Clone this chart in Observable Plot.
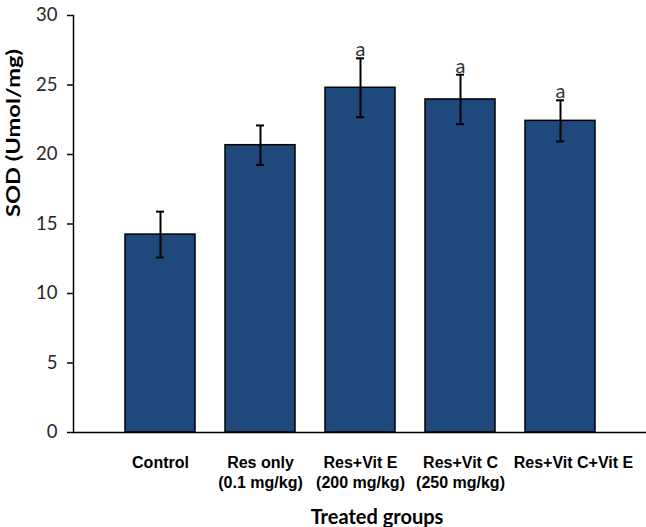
<!DOCTYPE html>
<html><head><meta charset="utf-8">
<script src="https://cdn.jsdelivr.net/npm/d3@7"></script>
<script src="https://cdn.jsdelivr.net/npm/@observablehq/plot@0.6"></script>
<style>html,body{margin:0;padding:0;background:#fff;overflow:hidden}#chart svg{display:block}</style>
</head><body><div id="chart"></div>
<script>
const groups = ["Control", "Res only", "Res+Vit E", "Res+Vit C", "Res+Vit C+Vit E"];
const doses = ["", "(0.1 mg/kg)", "(200 mg/kg)", "(250 mg/kg)", ""];
const sod = [14.24, 20.67, 24.8, 23.96, 22.42];
const sdErr = [1.65, 1.42, 2.12, 1.78, 1.48];
const sig = ["", "", "a", "a", "a"];
const yTicks = [0, 5, 10, 15, 20, 25, 30];
const yLabel = "SOD (Umol/mg)";
const xLabel = "Treated groups";

const data = groups.map((g, i) => ({
  group: g,
  label: doses[i] ? g + "\n" + doses[i] : g,
  sod: sod[i],
  lo: sod[i] - sdErr[i],
  hi: sod[i] + sdErr[i],
  sig: sig[i]
}));

const labelStyle = {x: "group", text: "label", frameAnchor: "bottom", lineAnchor: "top", dy: 21, lineHeight: 1.25, fontSize: 16, fontWeight: "bold", fontFamily: "Liberation Sans, Arial, sans-serif", fill: "#000"};

const chart = Plot.plot({
  width: 646,
  height: 527,
  marginTop: 15,
  marginBottom: 95,
  marginLeft: 73,
  marginRight: 0,
  style: {background: "#fff", overflow: "visible"},
  x: {domain: groups, range: [110, 610], paddingInner: 0.3, paddingOuter: 0.15, axis: null, label: null},
  y: {domain: [0, 30], label: null},
  marks: [
    Plot.barY(data, {x: "group", y: "sod", fill: "#1f497d", stroke: "#000", strokeWidth: 1.5}),
    Plot.ruleX(data, {x: "group", y1: "lo", y2: "hi", stroke: "#000", strokeWidth: 2}),
    Plot.tickY(data, {x: "group", y: "lo", stroke: "#000", strokeWidth: 2, insetLeft: 31, insetRight: 31}),
    Plot.tickY(data, {x: "group", y: "hi", stroke: "#000", strokeWidth: 2, insetLeft: 31, insetRight: 31}),
    Plot.text(data.filter(d => d.sig), {x: "group", y: "hi", text: "sig", lineAnchor: "bottom", dy: -2, fontSize: 20, fontFamily: "Lato", fill: "#333"}),
    Plot.ruleY([0], {stroke: "#000", strokeWidth: 1.5}),
    Plot.frame({anchor: "left", stroke: "#000", strokeWidth: 1.5}),
    Plot.axisY({ticks: yTicks, tickSize: 6, tickPadding: 10, fontSize: 18.5, fontFamily: "Lato", fill: "#262626", stroke: "#000", strokeWidth: 1.5, label: null}),
    Plot.text(data.slice(0, 4), labelStyle),
    Plot.text(data.slice(4), {...labelStyle, dx: 13}),
    Plot.text([yLabel], {frameAnchor: "left", dx: -59, dy: -7, rotate: -90, fontSize: 18, fontWeight: "bold", fontFamily: "Lato", fill: "#000"}),
    Plot.text([xLabel], {frameAnchor: "bottom", dx: 17, dy: 91, lineAnchor: "bottom", fontSize: 20, fontWeight: "bold", fontFamily: "Lato", fill: "#000"})
  ]
});
document.getElementById("chart").appendChild(chart);
d3.select(chart).selectAll("text").filter(function() { return this.textContent === yLabel; })
  .attr("textLength", 168).attr("lengthAdjust", "spacingAndGlyphs");
</script>
</body></html>
